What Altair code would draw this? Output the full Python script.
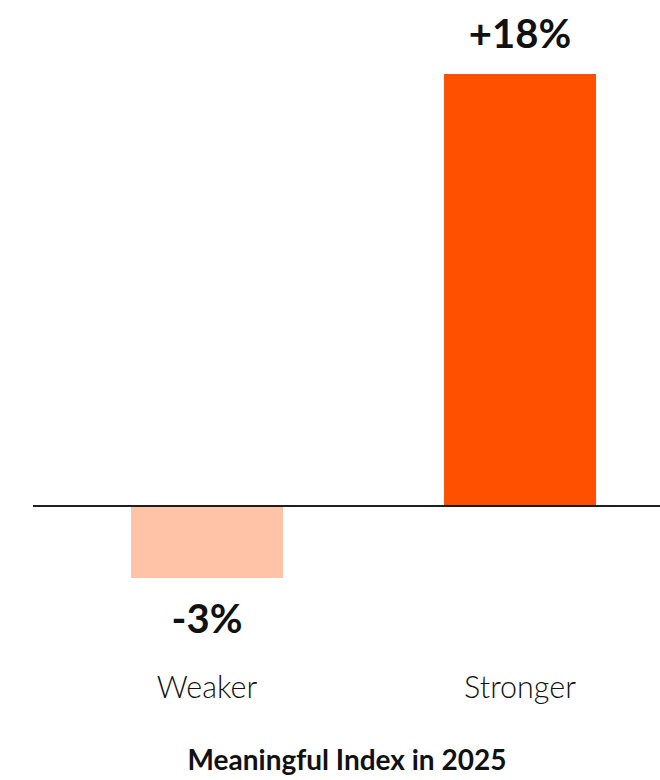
import altair as alt
import pandas as pd

categories = ["Weaker", "Stronger"]
values = [-3, 18]
labels = ["-3%", "+18%"]
colors = ["#FFC4A8", "#FF5000"]

df = pd.DataFrame({"category": categories, "value": values, "label": labels})

FONT = "Lato"
INK = "#111111"

x_enc = alt.X(
    "category:N",
    sort=categories,
    scale=alt.Scale(paddingInner=0.5144, paddingOuter=0.2588, align=0.605),
    axis=alt.Axis(
        title="Meaningful Index in 2025",
        domain=False,
        ticks=False,
        grid=False,
        labelAngle=0,
        labelFont=FONT,
        labelFontSize=30.5,
        labelFontWeight=300,
        labelColor=INK,
        labelPadding=95,
        titleFont=FONT,
        titleFontSize=28,
        titleFontWeight="bold",
        titleColor=INK,
        titlePadding=44,
    ),
)
y_scale = alt.Scale(domain=[-3, 18], nice=False, zero=True)
y_enc = alt.Y("value:Q", scale=y_scale, axis=None)

bars = alt.Chart(df).mark_bar().encode(
    x=x_enc,
    y=y_enc,
    y2=alt.datum(0),
    color=alt.Color("category:N", scale=alt.Scale(domain=categories, range=colors), legend=None),
)

# value labels: above positive bars, below negative bars
pos_labels = alt.Chart(df).transform_filter("datum.value >= 0").mark_text(
    font=FONT, fontSize=40, fontWeight="bold", baseline="alphabetic", dy=-26, color=INK
).encode(x=alt.X("category:N", sort=categories), y=alt.Y("value:Q", scale=y_scale), text="label:N")

neg_labels = alt.Chart(df).transform_filter("datum.value < 0").mark_text(
    font=FONT, fontSize=40, fontWeight="bold", baseline="alphabetic", dy=55, color=INK
).encode(x=alt.X("category:N", sort=categories), y=alt.Y("value:Q", scale=y_scale), text="label:N")

# baseline at zero spanning the full width
zero_line = alt.Chart(df).transform_calculate(z="0").mark_rule(
    color=INK, strokeWidth=1.5
).encode(y=alt.Y("z:Q", scale=y_scale))

chart = (
    alt.layer(bars, zero_line, pos_labels, neg_labels)
    .properties(
        width=627,
        height=504,
        background="white",
        autosize=alt.AutoSizeParams(type="none"),
        padding={"left": 33, "top": 74, "right": 0, "bottom": 202},
    )
    .configure_view(strokeWidth=0, stroke="transparent")
)

chart.save("out.html", embed_options={"renderer": "svg", "actions": False})
